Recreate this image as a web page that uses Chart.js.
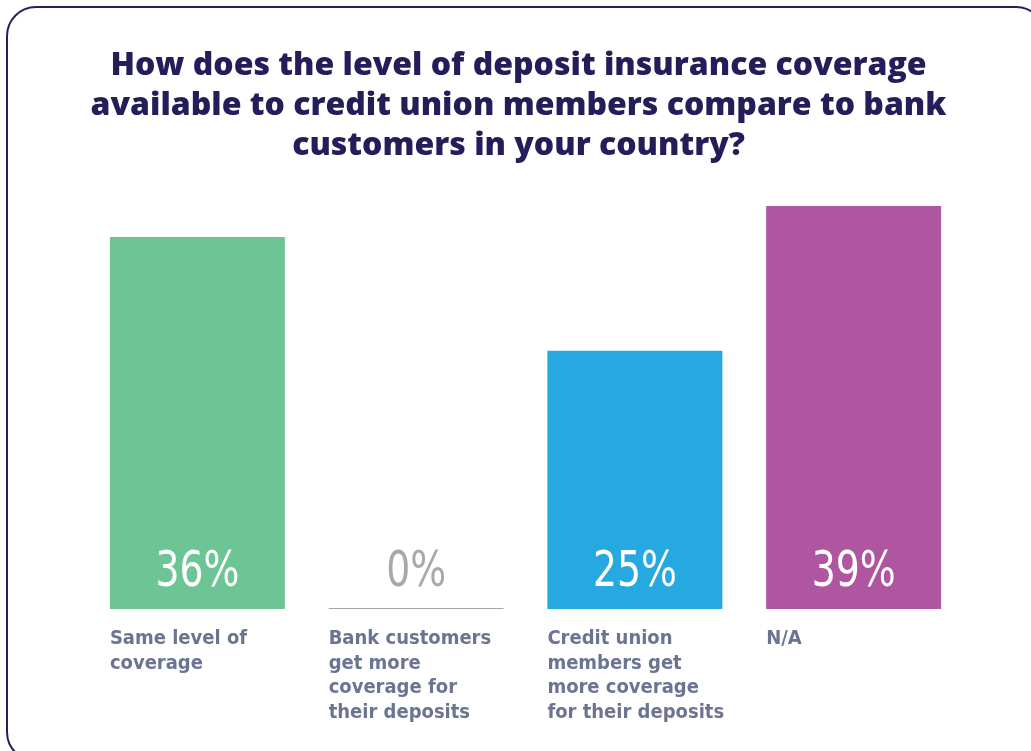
<!DOCTYPE html>
<html>
<head>
<meta charset="utf-8">
<script src="https://cdn.jsdelivr.net/npm/chart.js@4.4.1/dist/chart.umd.min.js"></script>
<style>
  html, body { margin: 0; padding: 0; background: #ffffff; overflow: hidden; }
  .card {
    position: absolute; left: 6px; top: 6px; width: 1036px; height: 752px;
    border: 2.5px solid #24205a; border-radius: 30px; background: #fff;
  }
  .wrap { position: absolute; left: 0; top: 0; width: 1031px; height: 751px; }
</style>
</head>
<body>
<div class="card"></div>
<div class="wrap"><canvas id="chart" width="1031" height="751"></canvas></div>
<script>
// Survey question and answers
const titleLines = [
  'How does the level of deposit insurance coverage',
  'available to credit union members compare to bank',
  'customers in your country?'
];
const categories = [
  ['Same level of', 'coverage'],
  ['Bank customers', 'get more', 'coverage for', 'their deposits'],
  ['Credit union', 'members get', 'more coverage', 'for their deposits'],
  ['N/A']
];
const shares = [36, 0, 25, 39];
const barColors = ['#6dc596', '#a7a7ab', '#25a9e0', '#b056a0'];
const valueColors = ['#ffffff', '#a8a8ac', '#ffffff', '#ffffff'];

// Percentage printed near the foot of each bar, answer text underneath
const barText = {
  id: 'barText',
  afterDatasetsDraw(chart) {
    const ctx = chart.ctx;
    const meta = chart.getDatasetMeta(0);
    const base = chart.scales.y.getPixelForValue(0);
    meta.data.forEach((bar, i) => {
      const left = bar.x - bar.width / 2;

      // narrow numerals: squeeze the glyphs horizontally
      ctx.save();
      ctx.translate(bar.x, base - 23);
      ctx.scale(0.84, 1);
      ctx.fillStyle = valueColors[i];
      ctx.font = '50px "DejaVu Sans Condensed", sans-serif';
      ctx.textAlign = 'center';
      ctx.textBaseline = 'alphabetic';
      ctx.fillText(shares[i] + '%', 0, 0);
      ctx.restore();

      ctx.save();
      ctx.fillStyle = '#6b7490';
      ctx.font = 'bold 20px "DejaVu Sans Condensed", sans-serif';
      ctx.textAlign = 'left';
      categories[i].forEach((line, k) => {
        ctx.fillText(line, left, base + 35 + k * 24.5);
      });
      ctx.restore();
    });
  }
};

new Chart(document.getElementById('chart'), {
  type: 'bar',
  data: {
    labels: categories.map(c => c.join(' ')),
    datasets: [{
      data: shares,
      backgroundColor: barColors,
      borderWidth: 0,
      minBarLength: 1,
      barPercentage: 1,
      categoryPercentage: 0.8
    }]
  },
  options: {
    responsive: false,
    animation: false,
    layout: { padding: { left: 74, right: 68, top: 0, bottom: 142 } },
    plugins: {
      legend: { display: false },
      tooltip: { enabled: false },
      title: {
        display: true,
        text: titleLines,
        color: '#231e5a',
        font: { family: '"Open Sans", sans-serif', size: 32, weight: '800', lineHeight: 1.25 },
        padding: { top: 46, bottom: 40 }
      }
    },
    scales: {
      x: { display: false },
      y: {
        min: 0, max: 39,
        ticks: { display: false },
        grid: { display: false },
        border: { display: false },
        // empty gutter on the left of the plot
        afterFit(scale) { scale.width = 14; }
      }
    }
  },
  plugins: [barText]
});
</script>
</body>
</html>
